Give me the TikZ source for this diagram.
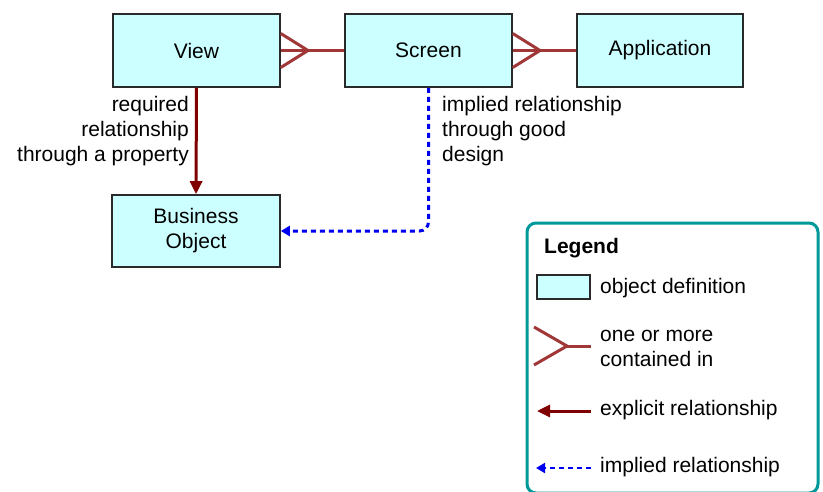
\documentclass[tikz,border=0pt]{standalone}
\usepackage{fontspec}
\setmainfont{Liberation Sans}
\usetikzlibrary{arrows.meta}
\definecolor{boxfill}{HTML}{CCFFFF}
\definecolor{boxline}{HTML}{2A2A2A}
\definecolor{crowred}{HTML}{A03838}
\definecolor{darkred}{HTML}{800000}
\definecolor{implblue}{HTML}{0000F0}
\definecolor{teal}{HTML}{009999}
\tikzset{
  objbox/.style={draw=boxline, line width=1.6pt, fill=boxfill, inner sep=0pt, align=center,
    font=\fontsize{21}{25}\selectfont},
  crow/.style={draw=crowred, line width=3pt},
  explicit/.style={draw=darkred, line width=3pt, -{Triangle[width=12pt,length=13pt]}},
  implied/.style={draw=implblue, line width=3pt, dash pattern=on 5pt off 4pt,
    -{Triangle[width=10pt,length=9pt]}},
  lbl/.style={inner sep=0pt, font=\fontsize{21}{25}\selectfont},
}
\begin{document}
\begin{tikzpicture}[x=1pt,y=-1pt]
\useasboundingbox (0,0) rectangle (823,491);
\clip (0,0) rectangle (823,491);
% main boxes
\node[objbox, minimum width=167pt, minimum height=73pt] (view) at (196.5,50.5) {View};
\node[objbox, minimum width=167pt, minimum height=73pt] (screen) at (428.5,50.5) {Screen};
\node[objbox, minimum width=166pt, minimum height=73pt] (app) at (660,50.5) {Application};
\node[objbox, minimum width=168pt, minimum height=72pt] (bo) at (196,231) {Business\\Object};
% crow's foot View -> Screen
\coordinate (f1) at (308,50.5);
\draw[crow] (screen.west) -- (view.east);
\draw[crow] ([yshift=17pt]view.east) -- (f1) -- ([yshift=-17pt]view.east);
% crow's foot Screen -> Application
\coordinate (f2) at (540,50.5);
\draw[crow] (app.west) -- (screen.east);
\draw[crow] ([yshift=17pt]screen.east) -- (f2) -- ([yshift=-17pt]screen.east);
% explicit relationship
\draw[explicit] (view.south) -- (bo.north);
\node[lbl, align=right, anchor=base east] (reqtxt) at (189,161) {required\\relationship\\through a property};
% implied relationship
\draw[implied, rounded corners=9pt] (screen.south) |- (bo.east);
\node[lbl, align=left, anchor=base west] (imptxt) at (442,161) {implied relationship\\through good\\design};
% legend
\draw[draw=teal, line width=3pt, rounded corners=9pt] (527,223) rectangle (818,493);
\node[lbl, anchor=base west, font=\fontsize{21}{25}\selectfont\bfseries] (legtitle) at (544,253) {Legend};
\node[objbox, minimum width=53pt, minimum height=24pt] (lgbox) at (563.5,287) {};
\node[lbl, anchor=base west] (lgboxtxt) at (600,293) {object definition};
\coordinate (lc1) at (534,327);
\coordinate (lc2) at (534,365);
\coordinate (lcf) at (567,346);
\coordinate (lce) at (591,346);
\draw[crow] (lc1) -- (lcf) -- (lc2);
\draw[crow] (lcf) -- (lce);
\node[lbl, align=left, anchor=base west] (lgcrowtxt) at (600,366) {one or more\\contained in};
\coordinate (le1) at (591,411);
\coordinate (le2) at (537,411);
\draw[explicit] (le1) -- (le2);
\node[lbl, anchor=base west] (lgexptxt) at (600,415) {explicit relationship};
\coordinate (li1) at (591,468);
\coordinate (li2) at (536,468);
\draw[implied, line width=2pt] (li1) -- (li2);
\node[lbl, anchor=base west] (lgimptxt) at (600,472) {implied relationship};
\end{tikzpicture}
\end{document}
